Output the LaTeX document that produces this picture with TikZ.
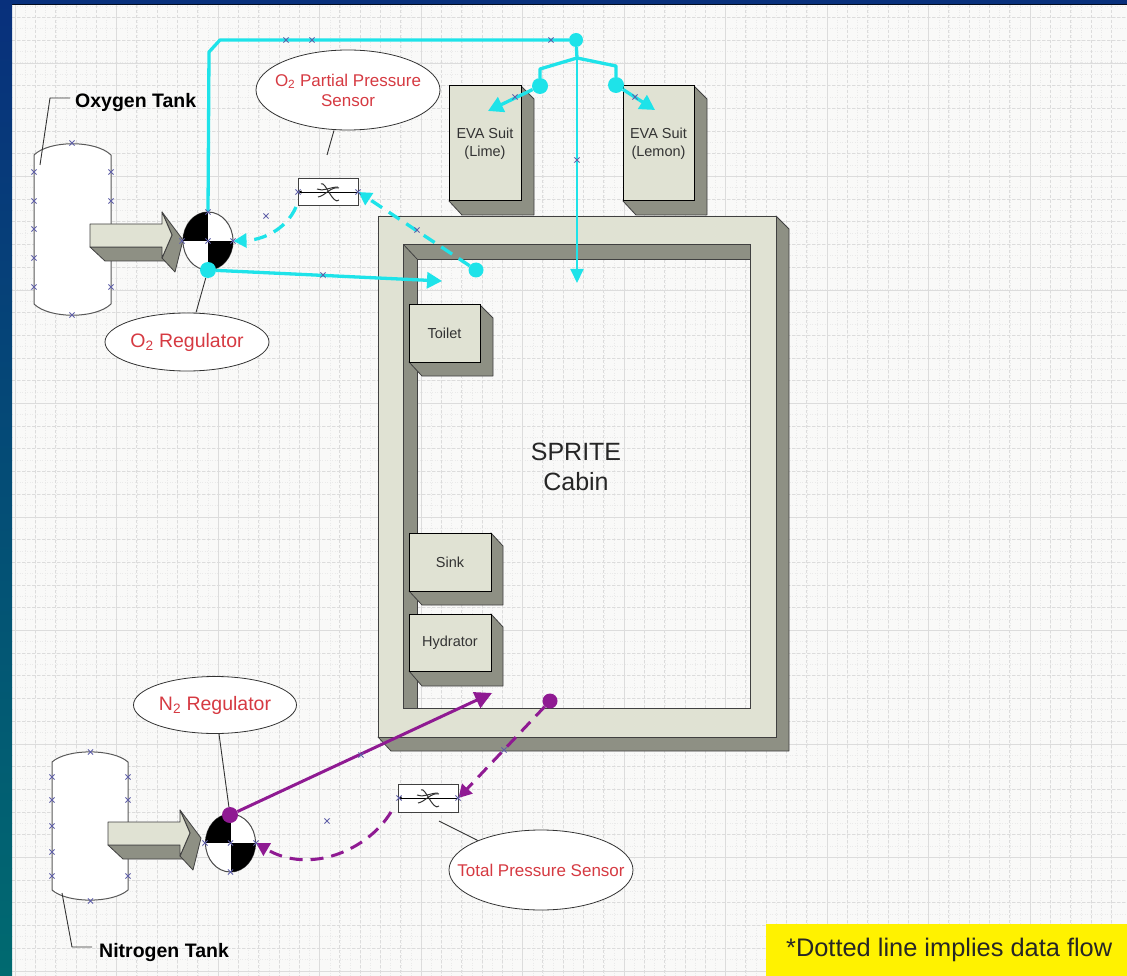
\documentclass[tikz,border=0pt]{standalone}
\usepackage{fontspec}
\setmainfont{Liberation Sans}
\usetikzlibrary{arrows.meta,shapes.geometric}
\definecolor{face}{HTML}{E0E2D3}
\definecolor{shade}{HTML}{8E9084}
\definecolor{cyanline}{HTML}{1EE3E9}
\definecolor{purp}{HTML}{8F1A92}
\definecolor{redtxt}{HTML}{D63A42}
\definecolor{crossc}{HTML}{6060A8}
\definecolor{gridc}{HTML}{DCDCDC}
\definecolor{paper}{HTML}{F9F9F8}
\definecolor{navy}{HTML}{08307C}
\definecolor{teal2}{HTML}{006A70}
\tikzset{
  fs/.style={font=\fontsize{#1}{#1}\selectfont},
  facebox/.style={draw=black,line width=1pt,fill=face,inner sep=0pt,align=center,text=black!80,fs=14.5},
  sidepoly/.style={fill=shade,draw=black!75,line width=.8pt,line join=round},
  callout/.style={ellipse,draw=black!80,fill=white,line width=.8pt,inner sep=0pt},
  calltext/.style={inner sep=0pt,text=redtxt,align=center},
  leader/.style={draw=black!80,line width=.9pt},
  tankshape/.style={draw=black!65,fill=white,line width=1pt},
  o2pipe/.style={draw=cyanline,line width=3.3pt,line join=round},
  n2pipe/.style={draw=purp,line width=3pt,line join=round},
  o2tip/.style={-{Triangle[width=16pt,length=15pt]}},
  n2tip/.style={-{Triangle[width=17pt,length=17pt]}},
  dataflow/.style={dash pattern=on 13pt off 8pt},
  o2dot/.style={circle,fill=cyanline,inner sep=0pt,minimum size=#1},
  n2dot/.style={circle,fill=purp,inner sep=0pt,minimum size=#1},
  sensorbox/.style={draw=black!75,fill=white,line width=.9pt,inner sep=0pt,minimum width=60pt,minimum height=27pt},
  gridmajor/.style={draw=gridc,line width=.9pt},
  gridminor/.style={draw=gridc,line width=.7pt,dash pattern=on 3pt off 2pt},
  gridfine/.style={draw=gridc!60,line width=.5pt,dash pattern=on 1pt off 1.5pt},
}
\newcommand\xmark[2]{\draw[crossc,line width=.8pt] (#1-2.6,#2-2.6) -- (#1+2.6,#2+2.6) (#1-2.6,#2+2.6) -- (#1+2.6,#2-2.6);}
\newcommand\tankbody[5]{% x1 x2 ytop ybot bulge
  \path[tankshape] (#1,#3) .. controls ({#1+.2*(#2-#1)},{#3-#5}) and ({#2-.2*(#2-#1)},{#3-#5}) .. (#2,#3)
    -- (#2,#4) .. controls ({#2-.2*(#2-#1)},{#4+#5}) and ({#1+.2*(#2-#1)},{#4+#5}) .. (#1,#4) -- cycle;}
\newcommand\blockarrow[2]{%
  \begin{scope}[shift={(#1,#2)}]
    \path[sidepoly] (90,247) -- (105,261) -- (165,261) -- (165,247) -- cycle;
    \path[sidepoly] (162,212) -- (183,240) -- (175,272) -- (162,258) -- (172,235) -- cycle;
    \path[draw=black!75,fill=face,line width=.9pt,line join=round] (90,224) -- (162,224) -- (162,212) -- (172,235) -- (162,258) -- (162,247) -- (90,247) -- cycle;
  \end{scope}}
\newcommand\regulator[3]{%
  \node[ellipse,draw=black!70,fill=white,line width=1pt,minimum width=50pt,minimum height=58pt,inner sep=0pt] (#1) at (#2,#3) {};
  \begin{scope}
    \clip (#2,#3) ellipse [x radius=25pt,y radius=29pt];
    \fill[black] (#2-26,#3-30) rectangle (#2,#3);
    \fill[black] (#2,#3) rectangle (#2+26,#3+30);
  \end{scope}}
\newcommand\sensorglyph[1]{%
  \draw[black,line width=.9pt,-{Latex[length=4pt,width=3pt]}] (#1.east) -- (#1.west);
  \draw[black!80,line width=1pt] ([xshift=-10pt,yshift=-5pt]#1.center) .. controls +(7,-1) and +(-8,-2) .. ([xshift=11pt,yshift=4pt]#1.center);
  \draw[black!80,line width=1pt] ([xshift=-7pt,yshift=8pt]#1.center) .. controls +(4,-4) and +(-6,6) .. ([xshift=11pt,yshift=-8pt]#1.center);
  \draw[black!80,line width=1pt] ([xshift=-11pt,yshift=3pt]#1.center) .. controls +(6,3) and +(-8,0) .. ([xshift=10pt,yshift=5pt]#1.center);}
\begin{document}
\begin{tikzpicture}[x=1pt,y=-1pt]
\useasboundingbox (0,0) rectangle (1127,976);
% page
\fill[paper] (0,0) rectangle (1127,976);
\foreach \g in {0,...,109} {\draw[gridfine] ({5+10.15*\g},5) -- ({5+10.15*\g},976);}
\foreach \g in {0,...,84} {\draw[gridfine] (12,{6+11.35*\g}) -- (1127,{6+11.35*\g});}
\foreach \g in {0,...,54} {\draw[gridminor] ({15+20.3*\g},5) -- ({15+20.3*\g},976);}
\foreach \g in {0,...,42} {\draw[gridminor] (12,{17.5+22.7*\g}) -- (1127,{17.5+22.7*\g});}
\foreach \g in {0,...,10} {\draw[gridmajor] ({15+101.5*\g},5) -- ({15+101.5*\g},976);}
\foreach \g in {0,...,8} {\draw[gridmajor] (12,{63+113.5*\g}) -- (1127,{63+113.5*\g});}
\fill[navy] (0,0) rectangle (1127,4.5);
\fill[black!75!navy] (12,4) rectangle (1127,5.5);
\shade[top color=navy,bottom color=teal2] (0,0) rectangle (12,976);
% cabin
\path[sidepoly] (776,216) -- (789,229) -- (789,751) -- (391,751) -- (378,737) -- (776,737) -- cycle;
\path[sidepoly] (403,244) -- (750,244) -- (750,259) -- (417,259) -- (417,708) -- (403,708) -- cycle;
\draw[black!75,line width=.8pt] (403,244) -- (417,259);
\path[fill=face,draw=black!75,line width=.9pt,even odd rule] (378,216) rectangle (776,737) (403,244) rectangle (750,708);
% EVA suits
\path[sidepoly] (521,86) -- (534,99) -- (534,215) -- (462,215) -- (449,201) -- cycle;
\node[facebox,minimum width=72pt,minimum height=115pt] (lime) at (485,143.5) {EVA Suit\\[3pt](Lime)};
\path[sidepoly] (694,86) -- (707,99) -- (707,215) -- (636,215) -- (623,201) -- cycle;
\node[facebox,minimum width=71pt,minimum height=115pt] (lemon) at (658.5,143.5) {EVA Suit\\[3pt](Lemon)};
% fixtures
\path[sidepoly] (480,305) -- (493,318) -- (493,376) -- (422,376) -- (409,362) -- cycle;
\node[facebox,minimum width=71pt,minimum height=57pt] (toilet) at (444.5,333.5) {Toilet};
\path[sidepoly] (491,533) -- (503,546) -- (503,605) -- (422,605) -- (409,591) -- cycle;
\node[facebox,minimum width=82pt,minimum height=58pt] (sink) at (450,562) {Sink};
\path[sidepoly] (491,614) -- (503,627) -- (503,686) -- (422,686) -- (409,671) -- cycle;
\node[facebox,minimum width=82pt,minimum height=57pt] (hydrator) at (450,642.5) {Hydrator};
\node[align=center,text=black!85,fs=25,inner sep=0pt] (cabin) at (576,467) {SPRITE\\[5pt]Cabin};
% tanks
\tankbody{34}{111}{155}{304}{15}
\tankbody{52}{128}{762}{890}{13.5}
\coordinate (o2tankleader) at (40,165);
\coordinate (n2tankleader) at (62,893);
\node[anchor=west,inner sep=0pt,font=\bfseries\fontsize{19.5}{20}\selectfont] (o2label) at (75,103) {Oxygen Tank};
\node[anchor=west,inner sep=0pt,font=\bfseries\fontsize{19.5}{20}\selectfont] (n2label) at (99,952) {Nitrogen Tank};
\draw[leader] (o2label.west) ++(-5,-5) -- ++(-20,0) -- (o2tankleader);
\draw[leader] (n2tankleader) -- (72,947) -- ([xshift=-7pt,yshift=5pt]n2label.west);
% block arrows
\blockarrow{0}{0}
\blockarrow{18}{598}
% regulators
\regulator{o2reg}{208}{241}
\regulator{n2reg}{230.5}{843}
% sensors
\node[sensorbox] (o2sens) at (328,192) {};
\sensorglyph{o2sens}
\node[sensorbox,minimum height=28pt] (n2sens) at (428,798) {};
\sensorglyph{n2sens}
% callouts
\node[callout,minimum width=184pt,minimum height=80pt] (o2pp) at (348,90) {};
\node[calltext,fs=17] (o2pptext) at (o2pp) {O\textsubscript{2} Partial Pressure\\[3pt]Sensor};
\node[callout,minimum width=164pt,minimum height=58pt] (o2regtag) at (187,342) {};
\node[calltext,fs=19.5] (o2regtext) at (o2regtag) {O\textsubscript{2} Regulator};
\node[callout,minimum width=163pt,minimum height=57pt] (n2regtag) at (215,705) {};
\node[calltext,fs=19.5] (n2regtext) at (n2regtag) {N\textsubscript{2} Regulator};
\node[callout,minimum width=184pt,minimum height=80pt] (totaltag) at (541,870) {};
\node[calltext,fs=17] (totaltext) at (totaltag) {Total Pressure Sensor};
\coordinate (o2ppend) at (327,155);
\coordinate (totalend) at (439,821);
\draw[leader] (o2pp.south) ++(-14,0) -- (o2ppend);
\draw[leader] (totaltag.155) -- (totalend);
% dots
\node[o2dot=14pt] (hub) at (576,40) {};
\coordinate (fork) at (577,58);
\node[o2dot=16pt] (limedot) at (540,86) {};
\node[o2dot=16pt] (lemondot) at (616,85) {};
\node[o2dot=16pt] (o2out) at (208,270) {};
\node[o2dot=15pt] (o2sample) at (476,270) {};
\node[n2dot=16pt] (n2out) at (230,815) {};
\node[n2dot=15pt] (n2sample) at (550,701) {};
% leaders to regulators
\draw[leader] (o2regtag.north) ++(9,0) -- (o2out);
\draw[leader] (n2regtag.south) ++(4,0) -- (n2out);
% oxygen piping
\coordinate (cornera) at (209,52);
\coordinate (cornerb) at (220,40);
\coordinate (limetip) at (488,111);
\coordinate (lemontip) at (655,110);
\coordinate (cabintip) at (577,283);
\coordinate (o2cabintip) at (442,281);
\draw[o2pipe] (o2reg.north) -- (cornera) -- (cornerb) -- (hub);
\draw[o2pipe] (hub) -- (fork) -- (540,69) -- (limedot);
\draw[o2pipe] (fork) -- (616,66) -- (lemondot);
\draw[o2pipe,line width=2pt,-{Triangle[width=13pt,length=14pt]}] (fork) -- (cabintip);
\draw[o2pipe,o2tip] (limedot) -- (limetip);
\draw[o2pipe,o2tip] (lemondot) -- (lemontip);
\draw[o2pipe,o2tip] (o2out) -- (o2cabintip);
\draw[o2pipe,dataflow,-{Triangle[width=14pt,length=13pt]}] (o2sample) -- (o2sens.east);
\coordinate (o2datastart) at (296,207);
\draw[o2pipe,dataflow,-{Triangle[width=14pt,length=13pt]}] (o2datastart) .. controls (286,230) and (262,240) .. (o2reg.east);
% nitrogen piping
\coordinate (n2cabintip) at (492,693);
\coordinate (n2datastart) at (391,812);
\draw[n2pipe,n2tip] (n2out) -- (n2cabintip);
\draw[n2pipe,dataflow,-{Triangle[width=14pt,length=13pt]}] (n2sample) -- (n2sens.east);
\draw[n2pipe,dataflow,-{Triangle[width=14pt,length=13pt]}] (n2datastart) .. controls (368,850) and (310,875) .. (n2reg.east);
% note
\node[fill=yellow,anchor=north west,minimum width=361pt,minimum height=52pt,inner sep=0pt,text=black!85,fs=25.4] (note) at (766,924) {\hspace{5pt}*Dotted line implies data flow};
% handle marks
\foreach \p/\q in {72/143,34/172,34/201,34/229,34/258,34/287,111/172,111/201,111/287,72/315,
  286/40,312/40,551/40,208/212,182/241,208/241,233/241,266/216,298/192,358/192,323/275,417/230,515/97,635/97,577/160,
  90.5/752,52/777,52/800,52/826,52/852,52/876,128/777,128/800,128/876,90.5/901,
  205/843,230.5/843,256/843,230.5/872,399/798,458/798,327/821,361/755,504/750}
  {\xmark{\p}{\q}}
\end{tikzpicture}
\end{document}
